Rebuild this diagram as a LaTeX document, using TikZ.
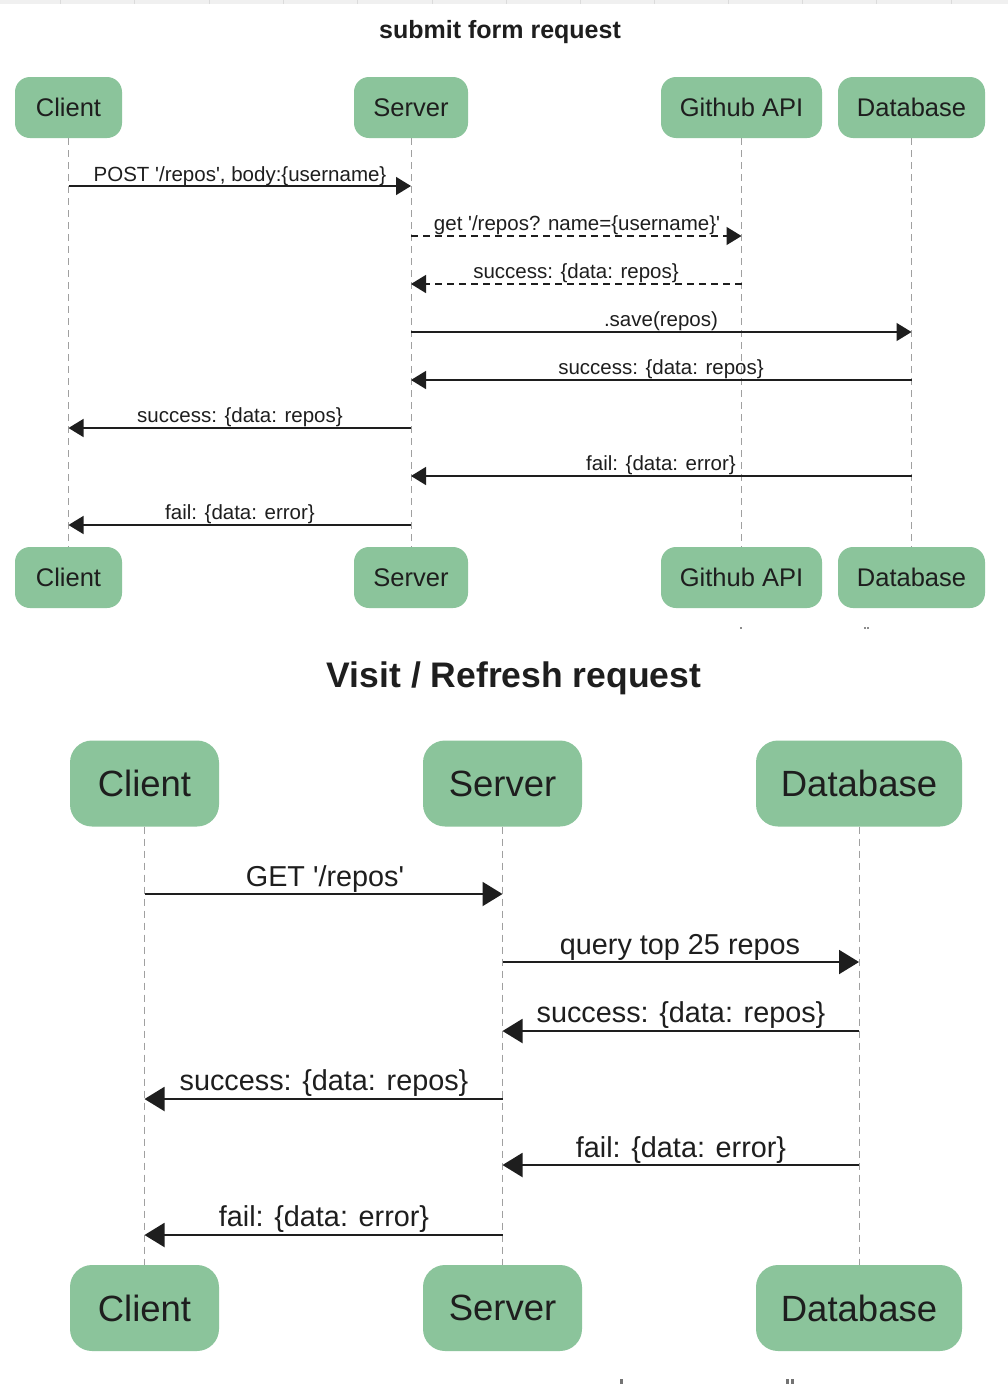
\documentclass[tikz,border=0pt]{standalone}
\usepackage{fontspec}
\setmainfont{Liberation Sans}
\usetikzlibrary{arrows.meta}
\definecolor{boxgreen}{RGB}{139,196,155}
\definecolor{txt}{RGB}{30,30,30}
\definecolor{life}{RGB}{160,160,160}
\newcommand{\sq}{\textquotesingle}
\begin{document}
\begin{tikzpicture}[x=1pt,y=-1pt,
  actorA/.style={fill=boxgreen, rounded corners=15pt, minimum height=61pt, inner sep=0pt, text=txt, font=\fontsize{25.5}{30}\selectfont},
  actorB/.style={fill=boxgreen, rounded corners=22pt, minimum height=86pt, inner sep=0pt, text=txt, font=\fontsize{36.5}{42}\selectfont},
  lifeline/.style={draw=life, line width=0.9pt, dash pattern=on 7pt off 5pt},
  msgA/.style={draw=txt, line width=1.4pt, -{Triangle[length=15pt,width=18pt]}},
  msgB/.style={draw=txt, line width=2pt, -{Triangle[length=20pt,width=24pt]}},
  dsh/.style={dash pattern=on 7pt off 5pt},
  lblA/.style={anchor=base, text=txt, inner sep=0pt, font=\fontsize{20.5}{24}\selectfont},
  lblB/.style={anchor=base, text=txt, inner sep=0pt, font=\fontsize{28.8}{34}\selectfont},
  ttl/.style={anchor=base, text=txt, inner sep=0pt, font=\bfseries}
]
\useasboundingbox (0,0) rectangle (1008,1384);
\fill[white] (0,0) rectangle (1008,1384);
% top grey strip
\fill[black!6] (0,0) rectangle (1008,4);
\foreach \gx in {60,134,209,283,357,432,506,580,654,728,802,876,951}
  \draw[black!14, line width=1pt] (\gx,0) -- (\gx,4);

% ---------- Section 1 ----------
\node[ttl, font=\bfseries\fontsize{25}{30}\selectfont] (t1) at (500,38) {submit form request};

\node[actorA, minimum width=107pt] (c1) at (68.5,107.5) {Client};
\node[actorA, minimum width=114pt] (s1) at (411,107.5) {Server};
\node[actorA, minimum width=161pt] (g1) at (741.5,107.5) {Github API};
\node[actorA, minimum width=147pt] (d1) at (911.5,107.5) {Database};
\node[actorA, minimum width=107pt] (c1b) at (68.5,577.5) {Client};
\node[actorA, minimum width=114pt] (s1b) at (411,577.5) {Server};
\node[actorA, minimum width=161pt] (g1b) at (741.5,577.5) {Github API};
\node[actorA, minimum width=147pt] (d1b) at (911.5,577.5) {Database};

\draw[lifeline] (c1.south) -- (c1b.north);
\draw[lifeline] (s1.south) -- (s1b.north);
\draw[lifeline] (g1.south) -- (g1b.north);
\draw[lifeline] (d1.south) -- (d1b.north);

\draw[msgA] (c1 |- 0,186) -- (s1 |- 0,186);
\node[lblA] (m1) at (240,181) {POST \sq/repos\sq, body:\{username\}};
\draw[msgA, dsh] (s1 |- 0,236) -- (g1 |- 0,236);
\node[lblA] (m2) at (577,230) {get \sq/repos? name=\{username\}\sq};
\draw[msgA, dsh] (g1 |- 0,284) -- (s1 |- 0,284);
\node[lblA] (m3) at (576,278) {success: \{data: repos\}};
\draw[msgA] (s1 |- 0,332) -- (d1 |- 0,332);
\node[lblA] (m4) at (661,326) {.save(repos)};
\draw[msgA] (d1 |- 0,380) -- (s1 |- 0,380);
\node[lblA] (m5) at (661,374) {success: \{data: repos\}};
\draw[msgA] (s1 |- 0,428) -- (c1 |- 0,428);
\node[lblA] (m6) at (240,422) {success: \{data: repos\}};
\draw[msgA] (d1 |- 0,476) -- (s1 |- 0,476);
\node[lblA] (m7) at (661,470) {fail: \{data: error\}};
\draw[msgA] (s1 |- 0,525) -- (c1 |- 0,525);
\node[lblA] (m8) at (240,519) {fail: \{data: error\}};

% small fragments
\fill[black!45] (740,627) rectangle (742,629);
\fill[black!45] (864,627) rectangle (866,629);
\fill[black!45] (867,627) rectangle (869,629);

% ---------- Section 2 ----------
\node[ttl, font=\bfseries\fontsize{35.5}{42}\selectfont] (t2) at (514,687) {Visit / Refresh request};

\node[actorB, minimum width=149pt] (c2) at (144.5,783.5) {Client};
\node[actorB, minimum width=159pt] (s2) at (502.5,783.5) {Server};
\node[actorB, minimum width=206pt] (d2) at (859,783.5) {Database};
\node[actorB, minimum width=149pt] (c2b) at (144.5,1308) {Client};
\node[actorB, minimum width=159pt] (s2b) at (502.5,1308) {Server};
\node[actorB, minimum width=206pt] (d2b) at (859,1308) {Database};

\draw[lifeline] (c2.south) -- (c2b.north);
\draw[lifeline] (s2.south) -- (s2b.north);
\draw[lifeline] (d2.south) -- (d2b.north);

\draw[msgB] (c2 |- 0,894) -- (s2 |- 0,894);
\node[lblB] (n1) at (325,886) {GET \sq/repos\sq};
\draw[msgB] (s2 |- 0,962) -- (d2 |- 0,962);
\node[lblB] (n2) at (680,954) {query top 25 repos};
\draw[msgB] (d2 |- 0,1031) -- (s2 |- 0,1031);
\node[lblB] (n3) at (681,1022) {success: \{data: repos\}};
\draw[msgB] (s2 |- 0,1099) -- (c2 |- 0,1099);
\node[lblB] (n4) at (324,1090) {success: \{data: repos\}};
\draw[msgB] (d2 |- 0,1165) -- (s2 |- 0,1165);
\node[lblB] (n5) at (681,1157) {fail: \{data: error\}};
\draw[msgB] (s2 |- 0,1235) -- (c2 |- 0,1235);
\node[lblB] (n6) at (324,1226) {fail: \{data: error\}};

% small fragments at bottom
\fill[black!55] (620,1379) rectangle (623,1384);
\fill[black!55] (786,1379) rectangle (789,1384);
\fill[black!55] (791,1379) rectangle (794,1384);
\end{tikzpicture}
\end{document}
